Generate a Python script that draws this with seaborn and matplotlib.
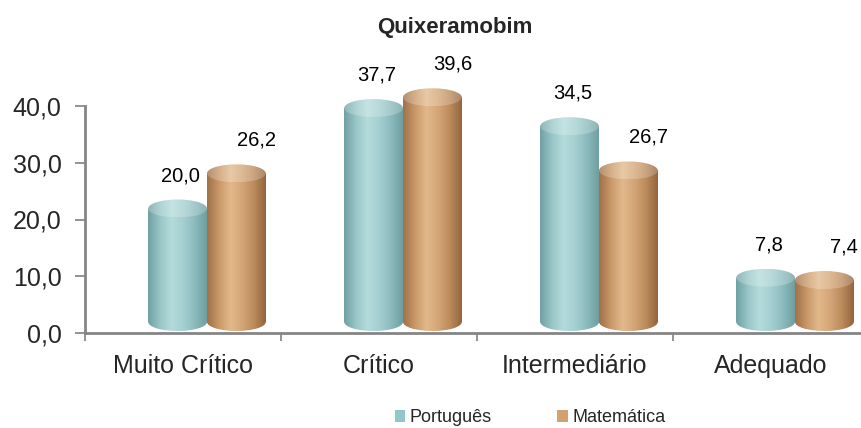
import numpy as np
import pandas as pd
import matplotlib
matplotlib.use("Agg")
import matplotlib.pyplot as plt
import matplotlib.transforms as mtransforms
from matplotlib.patches import Ellipse, Rectangle, Patch
from matplotlib.colors import LinearSegmentedColormap, to_rgb
import seaborn as sns

# ---- data -------------------------------------------------------------
title = "Quixeramobim"
niveis = ["Muito Crítico", "Crítico", "Intermediário", "Adequado"]
disciplinas = ["Português", "Matemática"]
portugues = [20.0, 37.7, 34.5, 7.8]
matematica = [26.2, 39.6, 26.7, 7.4]
yticks = [0, 10, 20, 30, 40]

df = pd.DataFrame({
    "Nível": niveis * 2,
    "Disciplina": [disciplinas[0]] * len(niveis) + [disciplinas[1]] * len(niveis),
    "Percentual": portugues + matematica,
})

# ---- style ------------------------------------------------------------
sns.set_theme(style="white")
plt.rcParams["font.family"] = ["Liberation Sans", "DejaVu Sans"]

# horizontal shading of each cylinder, left edge -> right edge
shades = {
    "Português": ["#71a0a3", "#98c6c7", "#b5dbdb", "#a4cfd0", "#8cbbbd", "#6f9ea1"],
    "Matemática": ["#a0714a", "#c99868", "#e2b98c", "#d4a576", "#bb8b5c", "#946440"],
}
mid = {"Português": "#93c6c8", "Matemática": "#d2a170"}
label_dx = {"Português": 3, "Matemática": 20}   # pixels
depth_px = (24, 11)                              # 3-D depth offset of the bars
cap_px = 18                                      # height of the elliptical caps

# plot area: value axis spans 227 px for 0..40, with headroom above for the caps
axis_px, frame_px = 227, 293
ymax = max(yticks)
ytop = ymax * frame_px / axis_px


def fmt(v):
    return f"{v:.1f}".replace(".", ",")


def lighten(colors, amount):
    out = []
    for c in colors:
        r, g, b = to_rgb(c)
        out.append((r + (1 - r) * amount, g + (1 - g) * amount, b + (1 - b) * amount))
    return out


fig = plt.figure(figsize=(8.62, 4.28), dpi=100)
ax = fig.add_axes([85 / 862, 95 / 428, 777 / 862, frame_px / 428])

sns.barplot(data=df, x="Nível", y="Percentual", hue="Disciplina",
            order=niveis, hue_order=disciplinas, palette=mid,
            width=0.6, saturation=1, legend=False, ax=ax)

xlim = (-0.5, -0.5 + 777 / 196)
ax.set_xlim(*xlim)
ax.set_ylim(0, ytop)

px_per_unit = ax.transData.transform((0, 1))[1] - ax.transData.transform((0, 0))[1]
cap_h = cap_px / px_per_unit

depth = mtransforms.ScaledTranslation(depth_px[0] / 100, depth_px[1] / 100, fig.dpi_scale_trans)
trans = ax.transData + depth
grad = np.linspace(0, 1, 128)[None, :]


def shaded(cmap, extent, clip, zorder):
    im = ax.imshow(grad, cmap=cmap, extent=extent, aspect="auto",
                   interpolation="bicubic", transform=trans, zorder=zorder)
    im.set_clip_path(clip)
    return im


z = 2
for container, disc in zip(ax.containers, disciplinas):
    body_cmap = LinearSegmentedColormap.from_list(disc, shades[disc])
    top_cmap = LinearSegmentedColormap.from_list(disc + "_t", lighten(shades[disc], 0.22))
    for bar in container:
        x0, w, h = bar.get_x(), bar.get_width(), bar.get_height()
        bar.set_visible(False)
        cx = x0 + w / 2

        # rounded foot of the cylinder
        foot = Ellipse((cx, 0), w, cap_h, transform=trans, fc="none", ec="none")
        ax.add_patch(foot)
        shaded(body_cmap, (x0, x0 + w, -cap_h / 2, cap_h / 2), foot, z)

        # shaded body
        body = Rectangle((x0, 0), w, h, transform=trans, fc="none", ec="none")
        ax.add_patch(body)
        shaded(body_cmap, (x0, x0 + w, 0, h), body, z)

        # lighter top cap
        top = Ellipse((cx, h), w, cap_h, transform=trans, fc="none", ec="none")
        ax.add_patch(top)
        shaded(top_cmap, (x0, x0 + w, h - cap_h / 2, h + cap_h / 2), top, z + 0.5)
        z += 1

        ax.annotate(fmt(h), xy=(cx, h), xytext=(depth_px[0] + label_dx[disc], 44),
                    textcoords="offset pixels", ha="center", va="center",
                    fontsize=14.5, color="black", zorder=20, annotation_clip=False)

ax.set_xlim(*xlim)
ax.set_ylim(0, ytop)

# ---- axes -------------------------------------------------------------
for side in ("top", "right"):
    ax.spines[side].set_visible(False)
for side in ("left", "bottom"):
    ax.spines[side].set_color("#858585")
    ax.spines[side].set_linewidth(2)
ax.spines["left"].set_bounds(0, ymax)

ax.set_yticks(yticks)
ax.set_yticklabels([fmt(t) for t in yticks], fontsize=18)
ax.tick_params(axis="y", left=True, direction="out", length=7, width=1.2,
               color="#808080", pad=10)

ax.set_xticks(range(len(niveis)))
ax.set_xticklabels(niveis, fontsize=18)
ax.set_xticks([i - 0.5 for i in range(len(niveis))], minor=True)
ax.tick_params(axis="x", which="major", bottom=False, length=0, pad=15)
ax.tick_params(axis="x", which="minor", bottom=True, direction="out", length=6,
               width=1.2, color="#808080")
ax.set_xlabel("")
ax.set_ylabel("")

fig.text(455 / 862, 1 - 28 / 428, title, ha="center", va="center",
         fontsize=16, fontweight="bold")

handles = [Patch(facecolor=mid[d], edgecolor="none", label=d) for d in disciplinas]
fig.legend(handles=handles, loc="center", bbox_to_anchor=(530 / 862, 1 - 418 / 428),
           ncol=2, frameon=False, fontsize=13, handlelength=0.6, handleheight=0.6,
           handletextpad=0.25, columnspacing=3.6)

fig.savefig("out.png", dpi=100)
